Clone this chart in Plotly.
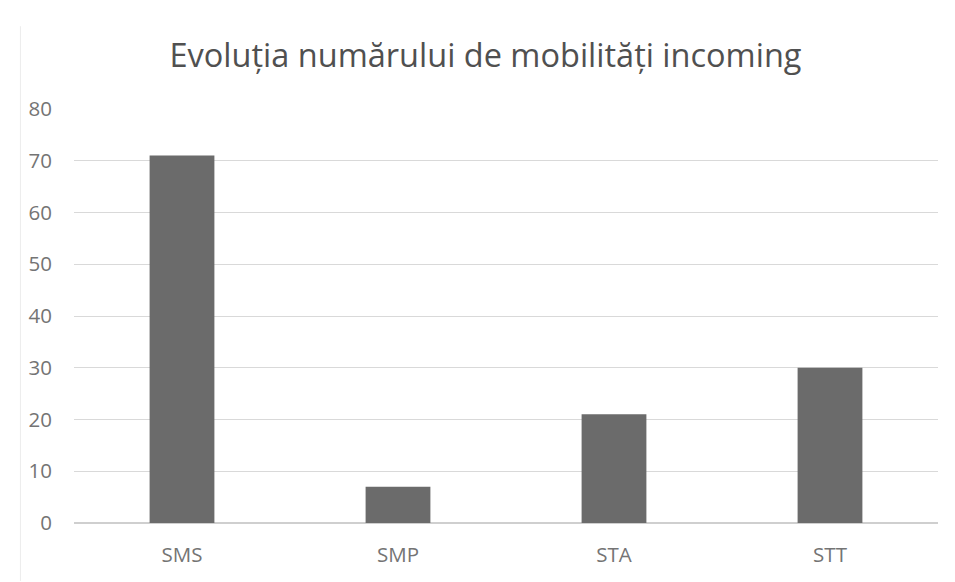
import plotly.graph_objects as go

categories = ["SMS", "SMP", "STA", "STT"]
values = [71, 7, 21, 30]
y_ticks = [0, 10, 20, 30, 40, 50, 60, 70, 80]

fig = go.Figure()
fig.add_trace(go.Bar(
    x=categories, y=values,
    marker=dict(color="#6b6b6b", line=dict(width=0)),
    width=0.3,
))

fig.update_layout(
    width=955, height=582,
    margin=dict(l=66, r=25, t=101, b=67),
    paper_bgcolor="white", plot_bgcolor="white",
    font=dict(family="Open Sans, Liberation Sans, sans-serif", color="#595959", size=16),
    title=dict(text="Evoluția numărului de mobilități incoming",
               x=0.5, xanchor="center", y=0.919, yanchor="middle",
               font=dict(size=32.5, color="#505050")),
    showlegend=False,
    bargap=0.7,
)
fig.update_yaxes(range=[0, 80], tickvals=y_ticks, showgrid=True,
                 gridcolor="#d9d9d9", gridwidth=1, zeroline=True,
                 zerolinecolor="#cfcfcf", ticks="", showline=False,
                 tickfont=dict(size=20.5, color="#747474"), ticklabelstandoff=21)
fig.update_xaxes(showgrid=False, showline=False, ticks="",
                 tickfont=dict(size=20.5, color="#747474"), ticklabelstandoff=17)

fig.add_shape(type="line", xref="paper", yref="paper",
              x0=-0.062, x1=-0.062, y0=-0.14, y1=1.2,
              line=dict(color="#ececec", width=1))

fig.write_html("out.html")
